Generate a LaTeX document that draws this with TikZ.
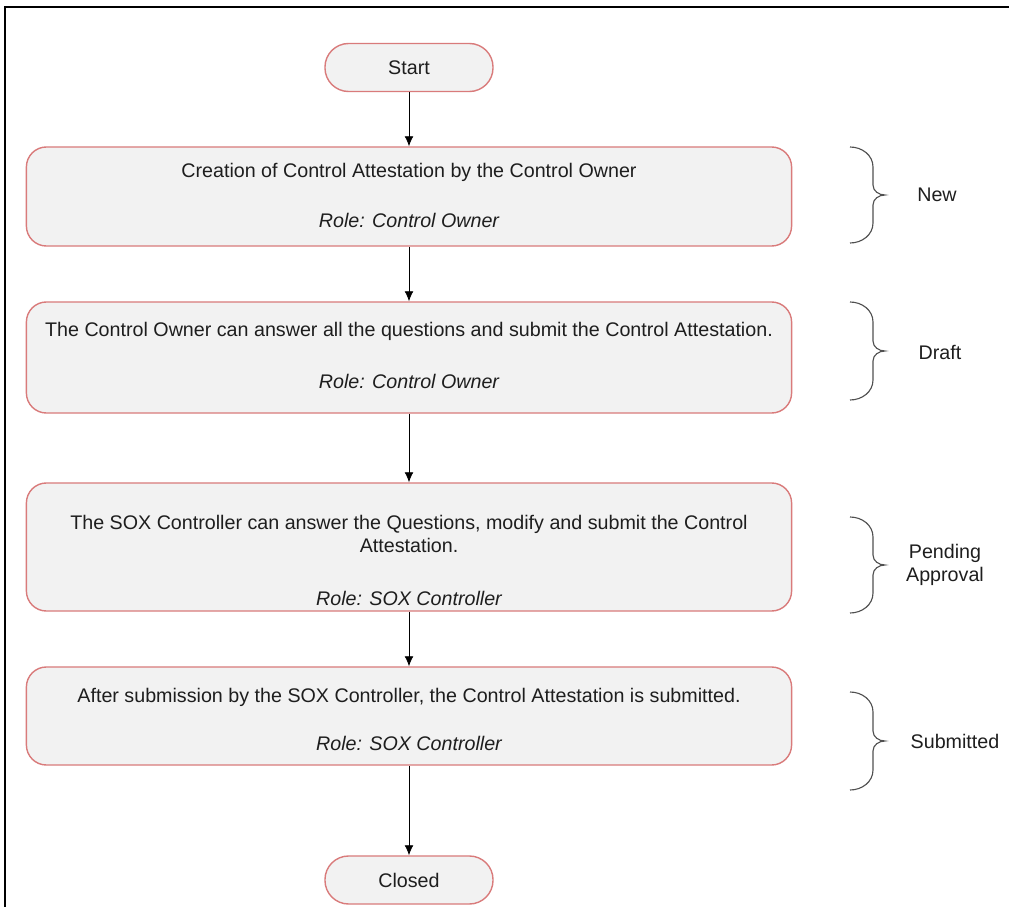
\documentclass[tikz,border=0pt]{standalone}
\usepackage{fontspec}
\setmainfont{Liberation Sans}
\usetikzlibrary{calc, arrows.meta}
\definecolor{boxfill}{HTML}{F2F2F2}
\definecolor{boxline}{HTML}{D97B7B}
\definecolor{inkgray}{HTML}{1E1E1E}
\definecolor{bracegray}{HTML}{505050}
% accolade de statut entre deux points (haut, bas)
\newcommand{\statusbrace}[2]{%
  \draw[phase] (#1) to[out=0,in=90] ++(23,20)
     -- ([shift={(23,-10)}]$(#1)!.5!(#2)$) to[out=-90,in=180] ([shift={(35,0)}]$(#1)!.5!(#2)$)
     to[out=180,in=90] ([shift={(23,10)}]$(#1)!.5!(#2)$)
     -- ([shift={(23,-20)}]#2) to[out=-90,in=0] (#2);}
\begin{document}
\begin{tikzpicture}[x=0.025cm, y=-0.025cm, font=\fontsize{14}{16}\selectfont, text=inkgray,
  actbox/.style={draw=boxline, fill=boxfill, line width=1pt, rounded corners=0.5cm,
                 minimum width=19.125cm, minimum height=#1, inner sep=0pt},
  termbox/.style={draw=boxline, fill=boxfill, line width=1pt, rounded corners=0.59cm,
                  minimum width=4.2cm, minimum height=1.2cm, inner sep=0pt},
  arr/.style={->, >={Latex[length=2.5mm,width=2.2mm]}, line width=0.6pt},
  phase/.style={line width=0.8pt, draw=bracegray}
]
  \useasboundingbox (0,0) rectangle (1009,907);
  \draw[line width=1.5pt] (5,907) -- (5,7) -- (1009,7);

  \node[termbox]          (start) at (409,67.5) {Start};
  \node[actbox=2.475cm]   (box1)  at (409,196.5) {};
  \node[actbox=2.775cm]   (box2)  at (409,357.5) {};
  \node[actbox=3.2cm]     (box3)  at (409,547)   {};
  \node[actbox=2.45cm]    (box4)  at (409,716)   {};
  \node[termbox]          (closed) at (409,880)  {Closed};

  \draw[arr] (start) -- (box1);
  \draw[arr] (box1)  -- (box2);
  \draw[arr] (box2)  -- (box3);
  \draw[arr] (box3)  -- (box4);
  \draw[arr] (box4)  -- (closed);

  % textes des etapes
  \node (txt1)  at (409,172) {Creation of Control Attestation by the Control Owner};
  \node (role1) at (409,220) {\itshape Role: Control Owner};
  \node (txt2)  at (409,331) {The Control Owner can answer all the questions and submit the Control Attestation.};
  \node (role2) at (409,381) {\itshape Role: Control Owner};
  \node[align=center] (txt3) at (409,534)
        {The SOX Controller can answer the Questions, modify and submit the Control\\Attestation.};
  \node (role3) at (409,598) {\itshape Role: SOX Controller};
  \node (txt4)  at (409,697) {After submission by the SOX Controller, the Control Attestation is submitted.};
  \node (role4) at (409,743) {\itshape Role: SOX Controller};

  % statuts
  \coordinate (b1a) at (850,147); \coordinate (b1b) at (850,243);
  \coordinate (b2a) at (850,302); \coordinate (b2b) at (850,400);
  \coordinate (b3a) at (850,517); \coordinate (b3b) at (850,613);
  \coordinate (b4a) at (850,692); \coordinate (b4b) at (850,790);
  \statusbrace{b1a}{b1b}
  \statusbrace{b2a}{b2b}
  \statusbrace{b3a}{b3b}
  \statusbrace{b4a}{b4b}
  \node (new)     at (937,195) {New};
  \node (draft)   at (940,352) {Draft};
  \node[align=center] (pending) at (945,565) {Pending\\Approval};
  \node (subm)    at (955,741) {Submitted};
\end{tikzpicture}
\end{document}
